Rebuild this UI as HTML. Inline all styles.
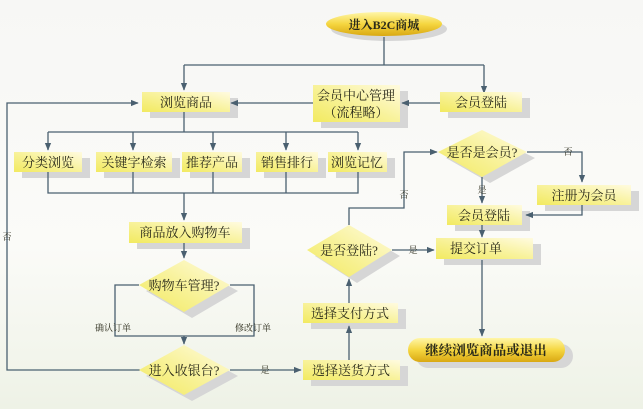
<!DOCTYPE html>
<html><head><meta charset="utf-8"><style>
html,body{margin:0;padding:0}
body{width:643px;height:409px;overflow:hidden}
svg{display:block}
text{font-family:"Liberation Serif","Noto Serif CJK SC",serif;fill:#2a2a1a}
</style></head><body>
<svg width="643" height="409" viewBox="0 0 643 409" xmlns="http://www.w3.org/2000/svg">
<defs>
<linearGradient id="bg" x1="0" y1="0" x2="0" y2="1">
<stop offset="0" stop-color="#f7f7f5"/><stop offset="0.6" stop-color="#fbfbf8"/><stop offset="1" stop-color="#eef2e6"/></linearGradient>
<linearGradient id="bx" x1="0" y1="1" x2="1" y2="0">
<stop offset="0" stop-color="#f2ea60"/><stop offset="0.5" stop-color="#f8f29a"/><stop offset="1" stop-color="#fffbe0"/></linearGradient>
<linearGradient id="gold" x1="0" y1="0" x2="0" y2="1">
<stop offset="0" stop-color="#fff6a8"/><stop offset="0.5" stop-color="#f5d640"/><stop offset="1" stop-color="#d9a812"/></linearGradient>
<marker id="a" viewBox="0 0 10 10" refX="9" refY="5" markerWidth="6" markerHeight="6" orient="auto"><path d="M0,1 L10,5 L0,9 z" fill="#4a6070"/></marker>
</defs>
<rect width="643" height="409" fill="url(#bg)"/>
<g fill="#d6d6d6">
<ellipse cx="389" cy="29" rx="58" ry="12"/>
<rect x="150" y="98" width="88" height="20"/>
<rect x="321" y="91" width="87" height="37"/>
<rect x="448" y="98" width="82" height="20"/>
<rect x="22" y="158" width="68" height="20"/><rect x="104" y="158" width="76" height="20"/><rect x="190" y="158" width="60" height="20"/><rect x="264" y="158" width="62" height="20"/><rect x="336" y="158" width="59" height="20"/>
<rect x="137" y="228" width="113" height="21"/>
<polygon points="192,266 238,291 192,318 146,291"/>
<polygon points="192,351 238,376 192,401 146,376"/>
<rect x="311" y="366" width="97" height="20"/>
<rect x="311" y="309" width="95" height="20"/>
<polygon points="357,231 400,256 357,283 315,256"/>
<polygon points="490,136 535,158 490,183 446,158"/>
<rect x="545" y="191" width="94" height="20"/>
<rect x="455" y="211" width="75" height="20"/>
<rect x="444" y="244" width="97" height="21"/>
<rect x="416" y="344" width="157" height="24" rx="12"/>
</g>
<g stroke="#4a6070" stroke-width="1.3" fill="none">
<path d="M384,37 V65"/><path d="M184,65 H484"/>
<path d="M184,65 V90" marker-end="url(#a)"/><path d="M484,65 V93" marker-end="url(#a)"/>
<path d="M440,103 H402" marker-end="url(#a)"/><path d="M313,103 H231" marker-end="url(#a)"/>
<path d="M140,370 H7 V103 H138" marker-end="url(#a)"/>
<path d="M184,112 V132 M48,132 H358"/>
<path d="M48,132 V150" marker-end="url(#a)"/><path d="M133,132 V150" marker-end="url(#a)"/><path d="M213,132 V150" marker-end="url(#a)"/><path d="M286,132 V150" marker-end="url(#a)"/><path d="M358,132 V150" marker-end="url(#a)"/>
<path d="M48,172 V193 H358 V172 M133,172 V193 M213,172 V193 M286,172 V193"/>
<path d="M184,193 V220" marker-end="url(#a)"/>
<path d="M184,243 V258" marker-end="url(#a)"/>
<path d="M139,285 H115 V336 H254 V285 H230"/>
<path d="M184,336 V344" marker-end="url(#a)"/>
<path d="M230,370 H301" marker-end="url(#a)"/>
<path d="M349,360 V326" marker-end="url(#a)"/>
<path d="M349,303 V279" marker-end="url(#a)"/>
<path d="M349,225 V208 H404 V152 H437" marker-end="url(#a)"/>
<path d="M527,152 H582 V182" marker-end="url(#a)"/>
<path d="M582,205 V215 H526" marker-end="url(#a)"/>
<path d="M482,177 V203" marker-end="url(#a)"/>
<path d="M482,225 V237" marker-end="url(#a)"/>
<path d="M392,250 H434" marker-end="url(#a)"/>
<path d="M482,260 V336" marker-end="url(#a)"/>
</g>
<ellipse cx="384" cy="24" rx="58" ry="12" fill="url(#gold)"/>
<g fill="url(#bx)">
<rect x="142" y="92" width="88" height="20"/>
<rect x="313" y="85" width="87" height="37"/>
<rect x="440" y="92" width="82" height="20"/>
<rect x="14" y="152" width="68" height="20"/><rect x="96" y="152" width="76" height="20"/><rect x="182" y="152" width="60" height="20"/><rect x="256" y="152" width="62" height="20"/><rect x="328" y="152" width="59" height="20"/>
<rect x="129" y="222" width="113" height="21"/>
<polygon points="184,260 230,285 184,312 139,285"/>
<polygon points="184,345 230,370 184,395 139,370"/>
<rect x="303" y="360" width="97" height="20"/>
<rect x="303" y="303" width="95" height="20"/>
<polygon points="349,225 392,250 349,277 307,250"/>
<polygon points="482,130 527,152 482,177 438,152"/>
<rect x="537" y="185" width="94" height="20"/>
<rect x="447" y="205" width="75" height="20"/>
<rect x="436" y="238" width="97" height="21"/>
</g>
<rect x="408" y="338" width="157" height="24" rx="12" fill="url(#gold)"/>
<g font-size="13" text-anchor="middle">
<text x="384" y="29" font-weight="bold" font-size="12">进入B2C商城</text>
<text x="186" y="107">浏览商品</text>
<text x="356" y="100">会员中心管理</text>
<text x="356" y="117">（流程略）</text>
<text x="481" y="107">会员登陆</text>
<text x="48" y="167">分类浏览</text><text x="134" y="167">关键字检索</text><text x="212" y="167">推荐产品</text><text x="287" y="167">销售排行</text><text x="357" y="167">浏览记忆</text>
<text x="185" y="237">商品放入购物车</text>
<text x="184" y="290">购物车管理?</text>
<text x="184" y="375">进入收银台?</text>
<text x="351" y="375">选择送货方式</text>
<text x="350" y="318">选择支付方式</text>
<text x="349" y="255">是否登陆?</text>
<text x="482" y="157">是否是会员?</text>
<text x="584" y="200">注册为会员</text>
<text x="484" y="220">会员登陆</text>
<text x="476" y="253">提交订单</text>
<text x="486" y="355" font-weight="bold" font-size="13.5">继续浏览商品或退出</text>
</g>
<g font-size="9" text-anchor="middle">
<text x="113" y="331">确认订单</text><text x="253" y="331">修改订单</text>
<text x="7" y="240">否</text>
<text x="265" y="373">是</text>
<text x="413" y="253">是</text>
<text x="404" y="198">否</text>
<text x="482" y="193">是</text>
<text x="568" y="155">否</text>
</g>
</svg>
</body></html>
